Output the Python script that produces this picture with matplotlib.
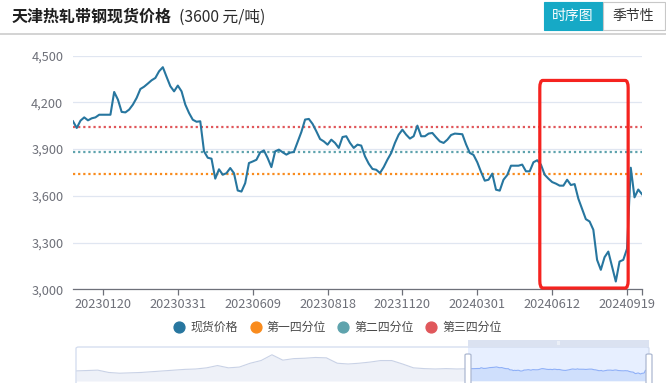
import matplotlib
matplotlib.use('Agg')
import matplotlib.pyplot as plt
import numpy as np
from matplotlib.patches import FancyBboxPatch, Rectangle
from matplotlib.lines import Line2D

plt.rcParams['font.family'] = ['Noto Sans CJK SC', 'DejaVu Sans']

# ---------------- data ----------------
title = '天津热轧带钢现货价格'
subtitle = '(3600 元/吨)'
tab_labels = ['时序图', '季节性']
series_names = ['现货价格', '第一四分位', '第二四分位', '第三四分位']
tick_labels = ['20230120', '20230331', '20230609', '20230818',
               '20231120', '20240301', '20240612', '20240919']
tick_index = [8, 28, 48, 68, 88, 108, 128, 148]
y_ticks = [3000, 3300, 3600, 3900, 4200, 4500]

price = [4078, 4035, 4082, 4103, 4084, 4097, 4103, 4120, 4120, 4120,
         4120, 4266, 4217, 4138, 4135, 4153, 4185, 4228, 4285, 4300,
         4320, 4341, 4356, 4399, 4425, 4363, 4303, 4270, 4307, 4270,
         4185, 4131, 4088, 4075, 4078, 3885, 3844, 3838, 3710, 3770,
         3735, 3745, 3778, 3745, 3634, 3627, 3681, 3810, 3820, 3831,
         3878, 3891, 3842, 3784, 3885, 3896, 3879, 3864, 3877, 3881,
         3945, 4009, 4089, 4093, 4061, 4014, 3964, 3949, 3928, 3960,
         3939, 3907, 3977, 3982, 3939, 3907, 3928, 3922, 3853, 3806,
         3772, 3767, 3746, 3784, 3832, 3874, 3939, 3992, 4024, 3992,
         3967, 3982, 4050, 3982, 3982, 3999, 4003, 3975, 3949, 3939,
         3960, 3990, 3999, 3997, 3995, 3930, 3875, 3862, 3815, 3753,
         3697, 3703, 3742, 3639, 3633, 3703, 3733, 3793, 3793, 3793,
         3800, 3757, 3757, 3815, 3828, 3800, 3735, 3710, 3688, 3678,
         3665, 3665, 3703, 3669, 3675, 3581, 3515, 3450, 3435, 3382,
         3189, 3125, 3206, 3242, 3146, 3050, 3178, 3189, 3260, 3780,
         3590, 3640, 3610]
q1, q2, q3 = 3740, 3880, 4040

# earlier history shown only in the zoom slider overview (coarse)
history = [3650, 3725, 3800, 3350, 3200, 3275, 3350, 3500, 3650, 3800,
           3950, 4025, 4250, 4700, 4250, 4400, 5150, 5675, 6800, 5750,
           6050, 6125, 6275, 6200, 5150, 5000, 5150, 5375, 5675, 5675,
           5000, 4250, 4100, 4025, 4100, 4025]

# highlight box (index range, value range)
box_x = (124.7, 148.3)
box_y = (3008, 4340)

# ---------------- styles ----------------
W, H = 666, 383
c_line = '#27769f'
c_q1 = '#f98b1d'
c_q2 = '#5ea3ad'
c_q3 = '#e0575b'
c_axis = '#6e7079'
c_grid = '#e0e6f1'

def fx(px):
    return px / W

def fy(py):
    return 1 - py / H

fig = plt.figure(figsize=(W / 100, H / 100), dpi=100)

# header
fig.text(fx(12), fy(17), title, fontsize=11.5, fontweight='bold',
         color='#1e1e1e', va='center', ha='left')
fig.text(fx(179), fy(17), subtitle, fontsize=11.3, color='#2a2a2a',
         va='center', ha='left')
fig.add_artist(Line2D([0, 1], [fy(33.5), fy(33.5)], color='#cccccc', lw=1.2,
                      transform=fig.transFigure))

# tabs
fig.add_artist(Rectangle((fx(543.5), fy(29.5)), fx(602.5) - fx(543.5),
                         fy(2.5) - fy(29.5), transform=fig.transFigure,
                         facecolor='#16a9c6', edgecolor='#16a9c6', lw=0.8))
fig.add_artist(Rectangle((fx(602.5), fy(29.5)), fx(664.5) - fx(602.5),
                         fy(2.5) - fy(29.5), transform=fig.transFigure,
                         facecolor='white', edgecolor='#c8c8c8', lw=0.8))
fig.text(fx(573), fy(16), tab_labels[0], fontsize=10, color='white',
         ha='center', va='center')
fig.text(fx(633.5), fy(16), tab_labels[1], fontsize=10, color='#333333',
         ha='center', va='center')

# main axes
ax = fig.add_axes([fx(73), fy(289.3), fx(642) - fx(73), fy(55.5) - fy(289.3)])
x = np.arange(len(price))
ax.plot(x, price, color=c_line, lw=1.5, solid_joinstyle='round', zorder=5)
for q, c in [(q1, c_q1), (q2, c_q2), (q3, c_q3)]:
    ax.axhline(q, color=c, lw=1.6, linestyle=(0, (1, 1.3)), zorder=3)

ax.set_xlim(0, len(price) - 1)
ax.set_ylim(3000, 4500)
ax.set_yticks(y_ticks)
ax.set_yticklabels([f'{v:,}' for v in y_ticks])
ax.set_xticks(tick_index)
ax.set_xticklabels(tick_labels)
ax.set_xticks([len(price) - 1], minor=True)
ax.grid(axis='y', color=c_grid, lw=0.9)
ax.set_axisbelow(True)
for s in ['top', 'right', 'left']:
    ax.spines[s].set_visible(False)
ax.spines['bottom'].set_color(c_axis)
ax.spines['bottom'].set_linewidth(0.9)
ax.tick_params(axis='y', length=0, pad=7, labelsize=9.2, labelcolor=c_axis)
ax.tick_params(axis='x', which='both', length=4, width=0.9, color=c_axis,
               pad=2, labelsize=9.2, labelcolor=c_axis)
ax.patch.set_alpha(0)

# highlight box
ax.add_patch(FancyBboxPatch((box_x[0], box_y[0]), box_x[1] - box_x[0],
                            box_y[1] - box_y[0],
                            boxstyle='round,pad=0,rounding_size=0.8',
                            mutation_aspect=60,
                            facecolor='none', edgecolor='#f5231f', lw=2.3,
                            zorder=8, clip_on=False))

# legend
legend_items = [(179, series_names[0], c_line), (255.5, series_names[1], c_q1),
                (343.5, series_names[2], c_q2), (431, series_names[3], c_q3)]
for px, name, c in legend_items:
    fig.add_artist(Line2D([fx(px)], [fy(327)], marker='o', markersize=7.8,
                          color=c, markeredgecolor=c, linestyle='none',
                          transform=fig.transFigure))
    fig.text(fx(px + 11), fy(327), name, fontsize=8.6, color='#4a4a4a',
             ha='left', va='center')

# zoom slider
sx0, sx1, sy0, sy1 = 76, 649, 347, 381
sax = fig.add_axes([fx(sx0), fy(sy1), fx(sx1) - fx(sx0), fy(sy0) - fy(sy1)])
Hn = 329
hx = np.linspace(0, Hn, len(history), endpoint=False)
px_ = Hn + np.arange(len(price))
full_x = np.concatenate([hx, [Hn]])
full_y = np.concatenate([history, [price[0]]])
sax.fill_between(full_x, 1680, full_y, color='#eef1f8', lw=0)
sax.plot(full_x, full_y, color='#c9d2e6', lw=0.8)
sax.fill_between(px_, 1680, price, color='#8fb0f7', alpha=0.25, lw=0)
sax.plot(px_, price, color='#8fb0f7', lw=0.8)
sax.axvspan(Hn, Hn + len(price) - 1, color=(135 / 255, 175 / 255, 1.0), alpha=0.2, lw=0)
sax.set_xlim(0, Hn + len(price) - 1)
sax.set_ylim(1680, 8320)
sax.axis('off')
fig.add_artist(FancyBboxPatch((fx(sx0), fy(sy1 + 4)), fx(sx1) - fx(sx0),
                              fy(sy0) - fy(sy1 + 4),
                              boxstyle='round,pad=0,rounding_size=0.004',
                              transform=fig.transFigure, facecolor='none',
                              edgecolor='#d2dbee', lw=0.9))
# move handle bar on top of selection
fig.add_artist(Rectangle((fx(468), fy(347)), fx(649) - fx(468), fy(340) - fy(347),
                         transform=fig.transFigure, facecolor='#dbe2f1',
                         edgecolor='none'))
fig.text(fx(558.5), fy(343.5), 'III', fontsize=3.5, color='white',
         ha='center', va='center', family='DejaVu Sans')
for hxp in (468, 649):
    fig.add_artist(FancyBboxPatch((fx(hxp - 3), fy(386)), fx(6), fy(354) - fy(386),
                                  boxstyle='round,pad=0,rounding_size=0.003',
                                  transform=fig.transFigure, facecolor='white',
                                  edgecolor='#acb8d1', lw=0.9))

fig.savefig('out.png', dpi=100)
